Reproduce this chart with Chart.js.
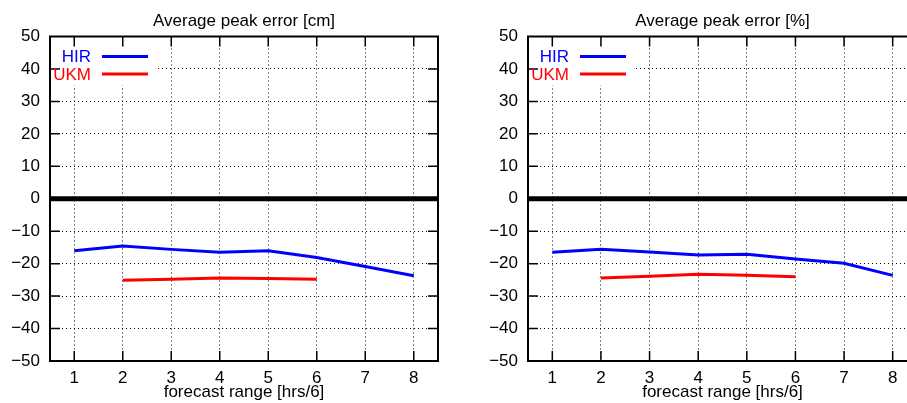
<!DOCTYPE html>
<html>
<head>
<meta charset="utf-8">
<script src="https://cdn.jsdelivr.net/npm/chart.js@4"></script>
<style>
  html, body { margin: 0; padding: 0; background: #fff; overflow: hidden; width: 907px; height: 403px; }
  .panel { position: absolute; top: 0; height: 403px; }
</style>
</head>
<body>
<div class="panel" style="left:0;width:453px"><canvas id="cmChart" width="453" height="403"></canvas></div>
<div class="panel" style="left:457px;width:475px"><canvas id="pctChart" width="475" height="403"></canvas></div>
<script>
// --- DATA ---
const ranges = [1, 2, 3, 4, 5, 6, 7, 8];
const hirCm = [-16.0, -14.6, -15.6, -16.5, -16.0, -18.1, -20.9, -23.7];
const ukmCm = [null, -25.1, -24.8, -24.4, -24.6, -24.8, null, null];
const hirPct = [-16.5, -15.6, -16.4, -17.3, -17.1, -18.6, -19.9, -23.6];
const ukmPct = [null, -24.4, -23.9, -23.3, -23.6, -24.0, null, null];
const yTicks = [-50, -40, -30, -20, -10, 0, 10, 20, 30, 40, 50];
const seriesNames = ['HIR', 'UKM'];
const seriesColors = ['#0000ff', '#ff0000'];

const FONT = '"Liberation Sans", Arial, sans-serif';
const FONT_SIZE = 17;

function toPoints(vals) {
    return ranges.map((x, i) => ({ x: x, y: vals[i] })).filter(p => p.y !== null);
}

// draws frame, inward ticks, zero line, key box and titles (gnuplot look)
const gnuplotLook = {
    id: 'gnuplotLook',
    beforeDatasetsDraw(chart) {
        const { ctx, chartArea: a, scales: { y } } = chart;
        ctx.save();
        // white box behind the key
        ctx.fillStyle = '#fff';
        ctx.fillRect(a.left + 1, a.top + 1, 107, 48);
        // thick zero line
        ctx.strokeStyle = '#000';
        ctx.lineWidth = 5;
        ctx.beginPath();
        ctx.moveTo(a.left, y.getPixelForValue(0));
        ctx.lineTo(a.right, y.getPixelForValue(0));
        ctx.stroke();
        ctx.restore();
    },
    afterDraw(chart) {
        const { ctx, chartArea: a, scales: { x, y } } = chart;
        const o = chart.options.plugins.gnuplotLook;
        ctx.save();
        ctx.strokeStyle = '#000';
        // tick marks on all four sides
        ctx.lineWidth = 1.5;
        ctx.beginPath();
        ranges.forEach(v => {
            const px = x.getPixelForValue(v);
            ctx.moveTo(px, a.bottom); ctx.lineTo(px, a.bottom - 10);
            ctx.moveTo(px, a.top); ctx.lineTo(px, a.top + 10);
        });
        yTicks.slice(1, -1).forEach(v => {
            const py = y.getPixelForValue(v);
            ctx.moveTo(a.left, py); ctx.lineTo(a.left + 10, py);
            ctx.moveTo(a.right, py); ctx.lineTo(a.right - 10, py);
        });
        ctx.stroke();
        // frame
        ctx.lineWidth = 2;
        ctx.strokeRect(a.left, a.top, a.right - a.left, a.bottom - a.top);

        // key
        ctx.font = FONT_SIZE + 'px ' + FONT;
        ctx.textAlign = 'right';
        ctx.textBaseline = 'middle';
        seriesNames.forEach((name, i) => {
            const ky = a.top + 20 + i * 17.4;
            ctx.fillStyle = seriesColors[i];
            ctx.fillText(name, a.left + 41, ky + 1);
            ctx.strokeStyle = seriesColors[i];
            ctx.lineWidth = 3;
            ctx.beginPath();
            ctx.moveTo(a.left + 52, ky);
            ctx.lineTo(a.left + 98, ky);
            ctx.stroke();
        });

        // titles
        ctx.fillStyle = '#000';
        ctx.textAlign = 'center';
        ctx.textBaseline = 'alphabetic';
        const cx = (a.left + a.right) / 2;
        ctx.fillText(o.title, cx, 26);
        ctx.fillText('forecast range [hrs/6]', cx, 397);
        ctx.restore();
    }
};

function makeChart(id, title, hir, ukm, axisWidth) {
    const ctx = document.getElementById(id).getContext('2d');
    return new Chart(ctx, {
        type: 'line',
        data: {
            datasets: [
                { label: seriesNames[0], data: toPoints(hir), borderColor: seriesColors[0], borderWidth: 3, pointRadius: 0, tension: 0 },
                { label: seriesNames[1], data: toPoints(ukm), borderColor: seriesColors[1], borderWidth: 3, pointRadius: 0, tension: 0 }
            ]
        },
        options: {
            responsive: false,
            devicePixelRatio: 1,
            animation: false,
            layout: { padding: { top: 36.5, right: 15, left: 0, bottom: 0 } },
            plugins: {
                legend: { display: false },
                tooltip: { enabled: false },
                gnuplotLook: { title: title }
            },
            scales: {
                x: {
                    type: 'linear',
                    min: 0.5,
                    max: 8.5,
                    afterBuildTicks: s => { s.ticks = ranges.map(v => ({ value: v })); },
                    afterFit: s => { s.height = 42; },
                    grid: { color: '#000', lineWidth: 1, drawTicks: false },
                    border: { display: false, dash: [1, 3] },
                    ticks: { color: '#000', font: { family: FONT, size: FONT_SIZE }, padding: 7, maxRotation: 0 }
                },
                y: {
                    min: -50,
                    max: 50,
                    afterBuildTicks: s => { s.ticks = yTicks.map(v => ({ value: v })); },
                    afterFit: s => { s.width = axisWidth; },
                    grid: { color: '#000', lineWidth: 1, drawTicks: false },
                    border: { display: false, dash: [1, 3] },
                    ticks: {
                        color: '#000', font: { family: FONT, size: FONT_SIZE }, padding: 10,
                        callback: v => (v < 0 ? '\u2212' + Math.abs(v) : String(v))
                    }
                }
            }
        },
        plugins: [gnuplotLook]
    });
}

makeChart('cmChart', 'Average peak error [cm]', hirCm, ukmCm, 50);
makeChart('pctChart', 'Average peak error [%]', hirPct, ukmPct, 71);
</script>
</body>
</html>
